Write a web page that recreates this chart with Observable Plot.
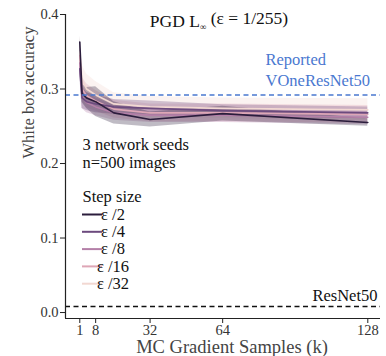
<!DOCTYPE html>
<html>
<head>
<meta charset="utf-8">
<script src="https://cdn.jsdelivr.net/npm/d3@7"></script>
<script src="https://cdn.jsdelivr.net/npm/@observablehq/plot@0.6"></script>
<style>
  html, body { margin: 0; padding: 0; background: white; }
  #chart { width: 386px; height: 356px; }
</style>
</head>
<body>
<div id="chart"></div>
<script>
// ---- data ----
const samples = [1, 2, 4, 8, 16, 32, 64, 128];
const stepSizes = ["ε /2", "ε /4", "ε /8", "ε /16", "ε /32"];
const stepColors = ["#2b1d3c", "#6c4a7e", "#b47fa8", "#dea6b6", "#f2d8d2"];
const meanEps2  = [0.363, 0.294, 0.288, 0.283, 0.268, 0.259, 0.267, 0.255];
const meanEps4  = [0.327, 0.288, 0.283, 0.280, 0.276, 0.274, 0.271, 0.268];
const meanEps8  = [0.335, 0.290, 0.282, 0.276, 0.268, 0.265, 0.265, 0.262];
const meanEps16 = [0.345, 0.300, 0.291, 0.284, 0.273, 0.268, 0.268, 0.266];
const meanEps32 = [0.350, 0.312, 0.300, 0.292, 0.280, 0.276, 0.274, 0.272];
const spreadEps2  = [0.008, 0.012, 0.014, 0.020, 0.015, 0.010, 0.010, 0.005];
const spreadEps4  = [0.010, 0.014, 0.012, 0.012, 0.010, 0.010, 0.008, 0.008];
const spreadEps8  = [0.012, 0.016, 0.014, 0.012, 0.010, 0.010, 0.010, 0.010];
const spreadEps16 = [0.016, 0.016, 0.016, 0.014, 0.012, 0.012, 0.012, 0.012];
const spreadEps32 = [0.020, 0.020, 0.020, 0.018, 0.015, 0.014, 0.014, 0.015];
const reportedVOne = [0.292];
const resnet50 = [0.008];
const xTicks = [1, 8, 32, 64, 128];
const yTicks = [0.0, 0.1, 0.2, 0.3, 0.4];
const xDomain = [-5.3, 133.6];
const yDomain = [-0.008, 0.4];

const means = [meanEps2, meanEps4, meanEps8, meanEps16, meanEps32];
const spreads = [spreadEps2, spreadEps4, spreadEps8, spreadEps16, spreadEps32];
const rows = [];
stepSizes.forEach((s, si) => {
  samples.forEach((k, i) => {
    rows.push({step: s, k, mean: means[si][i], lo: means[si][i] - spreads[si][i], hi: means[si][i] + spreads[si][i]});
  });
});
// draw lightest first so dark on top
const order = stepSizes.slice().reverse();
const sortedRows = order.flatMap(s => rows.filter(r => r.step === s));

const serif = "'Liberation Serif', 'Times New Roman', serif";

const chart = Plot.plot({
  width: 386,
  height: 356,
  marginLeft: 65,
  marginRight: 6,
  marginTop: 14,
  marginBottom: 38,
  style: {fontFamily: serif, fontSize: "14.5px", color: "#333", background: "white", overflow: "visible"},
  x: {domain: xDomain},
  y: {domain: yDomain},
  color: {domain: stepSizes, range: stepColors},
  marks: [
    Plot.axisY({ticks: yTicks, tickFormat: d3.format(".1f"), tickSize: 5, tickPadding: 2, label: null, fontSize: 14.5, stroke: "#222"}),
    Plot.axisX({ticks: xTicks, tickSize: 5, tickPadding: 1, label: null, fontSize: 14.5, stroke: "#222"}),
    Plot.areaY(sortedRows, {x: "k", y1: "lo", y2: "hi", z: "step", fill: "step", fillOpacity: 0.3}),
    Plot.line(sortedRows, {x: "k", y: "mean", z: "step", stroke: "step", strokeWidth: 1.6}),
    Plot.ruleY(reportedVOne, {stroke: "#4a78d0", strokeWidth: 1.5, strokeDasharray: "5,3.5"}),
    Plot.ruleY(resnet50, {stroke: "#111", strokeWidth: 1.5, strokeDasharray: "5,3.5"}),
    Plot.ruleX([xDomain[0]], {stroke: "#222", strokeWidth: 1.2}),
    Plot.ruleY([yDomain[0]], {stroke: "#222", strokeWidth: 1.2}),
    Plot.text(["PGD L∞ (ε = 1/255)"], {frameAnchor: "top", dx: -4, dy: 12, fontSize: 17.5, fill: "#111", lineAnchor: "bottom"}),
    Plot.text(["Reported"], {frameAnchor: "top-left", dx: 200, dy: 50, fontSize: 16.5, fill: "#4a78d0", textAnchor: "start", lineAnchor: "bottom"}),
    Plot.text(["VOneResNet50"], {frameAnchor: "top-left", dx: 200, dy: 71, fontSize: 16.5, fill: "#4a78d0", textAnchor: "start", lineAnchor: "bottom"}),
    Plot.text(["ResNet50"], {frameAnchor: "top-right", dx: -3, dy: 286, fontSize: 16.5, fill: "#111", textAnchor: "end", lineAnchor: "bottom"}),
    Plot.text(["3 network seeds"], {frameAnchor: "top-left", dx: 17, dy: 135, fontSize: 16.5, fill: "#111", textAnchor: "start", lineAnchor: "bottom"}),
    Plot.text(["n=500 images"], {frameAnchor: "top-left", dx: 17, dy: 153, fontSize: 16.5, fill: "#111", textAnchor: "start", lineAnchor: "bottom"}),
    Plot.text(["Step size"], {frameAnchor: "top-left", dx: 17, dy: 187, fontSize: 16.5, fill: "#111", textAnchor: "start", lineAnchor: "bottom"}),
    Plot.text(["White box accuracy"], {frameAnchor: "left", dx: -37, dy: -8, rotate: -90, fontSize: 16.5, fill: "#444"}),
    Plot.text(["MC Gradient Samples (k)"], {frameAnchor: "bottom", dx: 9, dy: 34, fontSize: 18.5, fill: "#444", lineAnchor: "bottom"})
  ]
});

document.getElementById("chart").appendChild(chart);

// enforce tick label size
d3.select(chart).selectAll('g[aria-label="x-axis tick label"], g[aria-label="y-axis tick label"]')
  .attr("font-size", 14.5).style("font-size", "14.5px")
  .selectAll("text").style("font-size", "14.5px");

// subscript infinity in title
d3.select(chart).selectAll("text").each(function() {
  const t = this.textContent;
  if (t === "PGD L∞ (ε = 1/255)") {
    const sel = d3.select(this);
    sel.text(null);
    sel.append("tspan").text("PGD L");
    sel.append("tspan").attr("font-size", 9).attr("dy", "0.35em").text("∞");
    sel.append("tspan").attr("dy", "-0.35em").text("\u00a0(ε = 1/255)");
  }
});

// legend (inside the frame, top-left)
const svg = d3.select(chart);
const leg = svg.append("g").attr("font-family", serif).attr("font-size", 16.5);
stepSizes.forEach((s, i) => {
  const y = 214.5 + i * 17.3;
  leg.append("line").attr("x1", 82).attr("x2", 102).attr("y1", y).attr("y2", y)
    .attr("stroke", stepColors[i]).attr("stroke-width", 2);
  leg.append("text").attr("x", 113).attr("y", y).attr("dy", "0.32em").attr("fill", "#111").text(s);
});
</script>
</body>
</html>
